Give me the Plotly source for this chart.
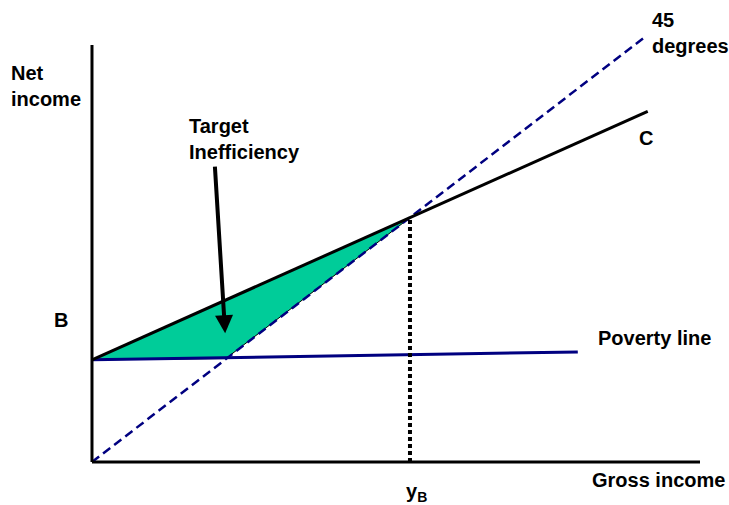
import plotly.graph_objects as go

# --- data (arbitrary income units) ---
axis_x_end = 100          # length of gross-income axis
axis_y_end = 100          # length of net-income axis
B = 24.5                  # guaranteed minimum net income
y_B = 52.3                # break-even gross income
deg45_x = [0, 91]
deg45_y = [0, 102]
line_c_x = [0, y_B, 91.4]
line_c_y = [B, 58.6, 84.1]
poverty_x = [0, 79.9]
poverty_y = [24.5, 26.4]
gap_x = [0, y_B, 22.0, 0]
gap_y = [B, 58.6, 24.8, B]
arrow_tail = (20.2, 71.2)
arrow_head = (21.9, 30.9)

NAVY = "#000080"
GREEN = "#00CC99"
FONT = dict(family="Liberation Sans, Arial, sans-serif", size=20, color="black")

fig = go.Figure()

# shaded target-inefficiency area
fig.add_trace(go.Scatter(x=gap_x, y=gap_y, fill="toself", fillcolor=GREEN,
                         mode="lines", line=dict(color="black", width=1),
                         hoverinfo="skip"))

# 45 degree line
fig.add_trace(go.Scatter(x=deg45_x, y=deg45_y, mode="lines",
                         line=dict(color=NAVY, width=2.5, dash="9px,5px"),
                         hoverinfo="skip"))

# poverty line
fig.add_trace(go.Scatter(x=poverty_x, y=poverty_y, mode="lines",
                         line=dict(color=NAVY, width=3), hoverinfo="skip"))

# budget line C
fig.add_trace(go.Scatter(x=line_c_x, y=line_c_y, mode="lines",
                         line=dict(color="black", width=3), hoverinfo="skip"))

# dotted drop line at y_B
fig.add_trace(go.Scatter(x=[y_B, y_B], y=[0, line_c_y[1]], mode="lines",
                         line=dict(color="black", width=4, dash="4px,3px"),
                         hoverinfo="skip"))

# axes
fig.add_shape(type="line", x0=0, y0=0, x1=axis_x_end, y1=0,
              line=dict(color="black", width=3))
fig.add_shape(type="line", x0=0, y0=0, x1=0, y1=axis_y_end,
              line=dict(color="black", width=3))

# arrow pointing into the shaded area
fig.add_annotation(x=arrow_head[0], y=arrow_head[1],
                   ax=arrow_tail[0], ay=arrow_tail[1],
                   xref="x", yref="y", axref="x", ayref="y",
                   showarrow=True, arrowhead=2, arrowsize=0.9,
                   arrowwidth=4, arrowcolor="black", text="")

# --- labels ---
def _label(x, y, text, xanchor="left", yanchor="middle"):
    fig.add_annotation(x=x, y=y, text=text, showarrow=False, font=FONT,
                       xanchor=xanchor, yanchor=yanchor, align="left",
                       borderpad=0)

_label(-13.5, 90.2, "<b>Net<br>income</b>")
_label(15.8, 77.5, "<b>Target<br>Inefficiency</b>")
_label(-6.4, 34.0, "<b>B</b>")
_label(89.8, 77.7, "<b>C</b>")
_label(91.9, 102.9, "<b>45<br>degrees</b>")
_label(83.1, 29.7, "<b>Poverty line</b>")
_label(104.2, -4.3, "<b>Gross income</b>", xanchor="right")
_label(51.5, -7.4, "<b>y<sub>B</sub></b>")

fig.update_layout(
    width=729, height=505,
    margin=dict(l=0, r=0, t=0, b=0),
    showlegend=False,
    paper_bgcolor="white", plot_bgcolor="white",
    xaxis=dict(range=[-15.13, 104.77], visible=False, fixedrange=True),
    yaxis=dict(range=[-10.31, 110.79], visible=False, fixedrange=True),
)

# drop the default 8px body margin so the figure fills the window exactly
fig.write_html("out.html", config={"displayModeBar": False},
               post_script="document.body.style.margin='0';"
                           "document.body.style.overflow='hidden';")
